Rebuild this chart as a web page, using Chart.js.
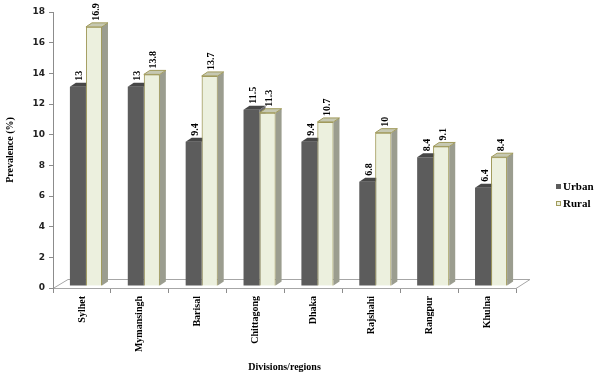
<!DOCTYPE html>
<html>
<head>
<meta charset="utf-8">
<script src="https://cdn.jsdelivr.net/npm/chart.js@4.4.1/dist/chart.umd.min.js"></script>
<style>
  html, body { margin: 0; padding: 0; background: #fff; }
</style>
</head>
<body>
<canvas id="bieuDo" width="596" height="376"></canvas>
<script>
const divisions = ['Sylhet', 'Mymansingh', 'Barisal', 'Chittagong', 'Dhaka', 'Rajshahi', 'Rangpur', 'Khulna'];
const urban = [13, 13, 9.4, 11.5, 9.4, 6.8, 8.4, 6.4];
const rural = [16.9, 13.8, 13.7, 11.3, 10.7, 10, 9.1, 8.4];
const yTicks = [0, 2, 4, 6, 8, 10, 12, 14, 16, 18];

const serifBold = { family: "'Liberation Serif', 'Times New Roman', serif", weight: 'bold', size: 10 };

// mau mat tren / mat ben cho hieu ung 3D
const mat3D = [
    { top: '#474747', side: '#6e6e6e', edge: null },
    { top: '#c6c8b2', side: '#9b9d8f', edge: '#a19b5c' }
];
const DX = 6, DY = -4;   // do sau cot
const SHIFT_X = 4, SHIFT_Y = -2;

function veMat3D(ctx, bar, mau) {
    const p = bar.getProps(['x', 'y', 'base', 'width'], true);
    const l = p.x - p.width / 2, r = p.x + p.width / 2;
    // mat ben
    ctx.beginPath();
    ctx.moveTo(r, p.y);
    ctx.lineTo(r + DX, p.y + DY);
    ctx.lineTo(r + DX, p.base + DY);
    ctx.lineTo(r, p.base);
    ctx.closePath();
    ctx.fillStyle = mau.side;
    ctx.fill();
    // mat tren
    ctx.beginPath();
    ctx.moveTo(l, p.y);
    ctx.lineTo(r, p.y);
    ctx.lineTo(r + DX, p.y + DY);
    ctx.lineTo(l + DX, p.y + DY);
    ctx.closePath();
    ctx.fillStyle = mau.top;
    ctx.fill();
    if (mau.edge) {
        ctx.strokeStyle = mau.edge;
        ctx.lineWidth = 1;
        ctx.stroke();
    }
}

const hieuUng3D = {
    id: 'hieuUng3D',
    beforeDraw(chart) {
        // san (floor)
        const { ctx, chartArea } = chart;
        const l = chartArea.left, r = chartArea.right, b = chartArea.bottom;
        ctx.save();
        ctx.strokeStyle = '#a6a6a6';
        ctx.lineWidth = 1;
        ctx.beginPath();
        ctx.moveTo(l, b + 0.5);
        ctx.lineTo(l + 15, b - 8.5);
        ctx.lineTo(r + 14, b - 8.5);
        ctx.lineTo(r, b + 0.5);
        ctx.stroke();
        ctx.restore();
    },
    beforeDatasetsDraw(chart) {
        chart.ctx.save();
        chart.ctx.translate(SHIFT_X, SHIFT_Y);
    },
    afterDatasetsDraw(chart) {
        const ctx = chart.ctx;
        const metaUrban = chart.getDatasetMeta(0);
        const metaRural = chart.getDatasetMeta(1);
        // urban: mat 3D, sau do ve lai cot rural de che phan khuat
        metaUrban.data.forEach(bar => veMat3D(ctx, bar, mat3D[0]));
        metaRural.data.forEach(bar => {
            bar.draw(ctx);
            veMat3D(ctx, bar, mat3D[1]);
        });
        // nhan gia tri
        ctx.font = "bold 10px 'Liberation Serif', 'Times New Roman', serif";
        ctx.fillStyle = '#000';
        ctx.textAlign = 'left';
        ctx.textBaseline = 'middle';
        chart.data.datasets.forEach((ds, i) => {
            chart.getDatasetMeta(i).data.forEach((bar, j) => {
                const p = bar.getProps(['x', 'y'], true);
                ctx.save();
                ctx.translate(p.x + 2, p.y + DY - 2);
                ctx.rotate(-Math.PI / 2);
                ctx.fillText(String(ds.data[j]), 0, 0);
                ctx.restore();
            });
        });
        ctx.restore();
    },
    afterDraw(chart) {
        // chu thich
        const ctx = chart.ctx;
        ctx.save();
        ctx.font = "bold 11px 'Liberation Serif', 'Times New Roman', serif";
        ctx.textAlign = 'left';
        ctx.textBaseline = 'middle';
        chart.data.datasets.forEach((ds, i) => {
            const y = 187 + i * 17;
            ctx.fillStyle = ds.backgroundColor;
            ctx.fillRect(556, y - 3, 5, 5);
            if (i === 1) {
                ctx.strokeStyle = ds.borderColor;
                ctx.lineWidth = 1;
                ctx.strokeRect(556.5, y - 2.5, 4, 4);
            }
            ctx.fillStyle = '#000';
            ctx.fillText(ds.label, 563, y);
        });
        ctx.restore();
    }
};

const ctx = document.getElementById('bieuDo').getContext('2d');
new Chart(ctx, {
    type: 'bar',
    data: {
        labels: divisions,
        datasets: [
            {
                label: 'Urban',
                data: urban,
                backgroundColor: '#5c5c5c',
                borderWidth: 0
            },
            {
                label: 'Rural',
                data: rural,
                backgroundColor: '#ecf0de',
                borderColor: '#a19b5c',
                borderWidth: 1
            }
        ]
    },
    options: {
        responsive: false,
        animation: false,
        devicePixelRatio: 1,
        layout: { padding: { left: 0, right: 80, top: 12, bottom: 0 } },
        plugins: {
            legend: { display: false },
            tooltip: { enabled: false }
        },
        datasets: {
            bar: { categoryPercentage: 0.554, barPercentage: 1 }
        },
        scales: {
            x: {
                afterFit(scale) { scale.height = 88; },
                grid: {
                    offset: true,
                    drawOnChartArea: false,
                    drawTicks: true,
                    tickLength: 5,
                    color: '#8c8c8c'
                },
                border: { display: true, color: '#a6a6a6' },
                ticks: {
                    autoSkip: false,
                    minRotation: 90,
                    maxRotation: 90,
                    padding: 3,
                    color: '#000',
                    font: serifBold
                },
                title: {
                    display: true,
                    text: 'Divisions/regions',
                    color: '#000',
                    font: serifBold,
                    padding: { top: 0, bottom: 3 }
                }
            },
            y: {
                min: 0,
                max: 18,
                afterFit(scale) { scale.width = 53; },
                afterBuildTicks(scale) { scale.ticks = yTicks.map(v => ({ value: v })); },
                grid: {
                    drawOnChartArea: false,
                    drawTicks: true,
                    tickLength: 4,
                    color: '#8c8c8c'
                },
                border: { display: true, color: '#8c8c8c' },
                ticks: {
                    padding: 4,
                    color: '#222',
                    font: { family: "'DejaVu Sans', Verdana, sans-serif", weight: 'bold', size: 9 }
                },
                title: {
                    display: true,
                    text: 'Prevalence (%)',
                    color: '#000',
                    font: serifBold,
                    padding: { top: 4, bottom: 0 }
                }
            }
        }
    },
    plugins: [hieuUng3D]
});
</script>
</body>
</html>
